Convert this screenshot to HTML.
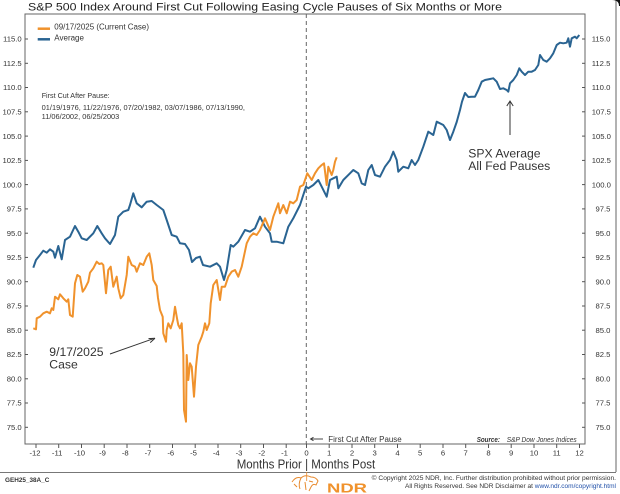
<!DOCTYPE html>
<html><head><meta charset="utf-8"><style>
html,body{margin:0;padding:0;background:#fff;}
svg{display:block;font-family:"Liberation Sans",Arial,sans-serif;}
</style></head><body>
<svg width="620" height="494" viewBox="0 0 620 494" xmlns="http://www.w3.org/2000/svg">
<rect width="620" height="494" fill="#fff"/>
<!-- outer border -->
<line x1="616" y1="0" x2="616" y2="472" stroke="#666" stroke-width="1"/>
<line x1="0" y1="472.5" x2="616" y2="472.5" stroke="#777" stroke-width="1"/>
<path d="M612,0 Q619,0 619,6 L620,6 L620,0 Z" fill="#111"/>
<!-- title -->
<text x="28" y="10.5" font-size="11" fill="#222" textLength="474" lengthAdjust="spacingAndGlyphs">S&amp;P 500 Index Around First Cut Following Easing Cycle Pauses of Six Months or More</text>
<!-- frame -->
<rect x="25" y="14" width="560" height="430" fill="none" stroke="#666" stroke-width="1"/>
<!-- y ticks & labels -->
<g font-size="7.7" fill="#333" stroke="none">
<g stroke="#555" stroke-width="1">
<line x1="25" y1="39" x2="28" y2="39"/><line x1="25" y1="63.3" x2="28" y2="63.3"/><line x1="25" y1="87.5" x2="28" y2="87.5"/><line x1="25" y1="111.8" x2="28" y2="111.8"/><line x1="25" y1="136.1" x2="28" y2="136.1"/><line x1="25" y1="160.4" x2="28" y2="160.4"/><line x1="25" y1="184.6" x2="28" y2="184.6"/><line x1="25" y1="208.9" x2="28" y2="208.9"/><line x1="25" y1="233.2" x2="28" y2="233.2"/><line x1="25" y1="257.4" x2="28" y2="257.4"/><line x1="25" y1="281.7" x2="28" y2="281.7"/><line x1="25" y1="306" x2="28" y2="306"/><line x1="25" y1="330.2" x2="28" y2="330.2"/><line x1="25" y1="354.5" x2="28" y2="354.5"/><line x1="25" y1="378.8" x2="28" y2="378.8"/><line x1="25" y1="403" x2="28" y2="403"/><line x1="25" y1="427.3" x2="28" y2="427.3"/>
<line x1="582" y1="39" x2="585" y2="39"/><line x1="582" y1="63.3" x2="585" y2="63.3"/><line x1="582" y1="87.5" x2="585" y2="87.5"/><line x1="582" y1="111.8" x2="585" y2="111.8"/><line x1="582" y1="136.1" x2="585" y2="136.1"/><line x1="582" y1="160.4" x2="585" y2="160.4"/><line x1="582" y1="184.6" x2="585" y2="184.6"/><line x1="582" y1="208.9" x2="585" y2="208.9"/><line x1="582" y1="233.2" x2="585" y2="233.2"/><line x1="582" y1="257.4" x2="585" y2="257.4"/><line x1="582" y1="281.7" x2="585" y2="281.7"/><line x1="582" y1="306" x2="585" y2="306"/><line x1="582" y1="330.2" x2="585" y2="330.2"/><line x1="582" y1="354.5" x2="585" y2="354.5"/><line x1="582" y1="378.8" x2="585" y2="378.8"/><line x1="582" y1="403" x2="585" y2="403"/><line x1="582" y1="427.3" x2="585" y2="427.3"/>
</g>
<g text-anchor="end">
<text x="21.7" y="41.7">115.0</text><text x="21.7" y="66">112.5</text><text x="21.7" y="90.2">110.0</text><text x="21.7" y="114.5">107.5</text><text x="21.7" y="138.8">105.0</text><text x="21.7" y="163.1">102.5</text><text x="21.7" y="187.3">100.0</text><text x="21.7" y="211.6">97.5</text><text x="21.7" y="235.9">95.0</text><text x="21.7" y="260.1">92.5</text><text x="21.7" y="284.4">90.0</text><text x="21.7" y="308.7">87.5</text><text x="21.7" y="332.9">85.0</text><text x="21.7" y="357.2">82.5</text><text x="21.7" y="381.5">80.0</text><text x="21.7" y="405.7">77.5</text><text x="21.7" y="430">75.0</text>
</g>
<g text-anchor="start">
<text x="591.7" y="41.7">115.0</text><text x="591.7" y="66">112.5</text><text x="591.7" y="90.2">110.0</text><text x="591.7" y="114.5">107.5</text><text x="591.7" y="138.8">105.0</text><text x="591.7" y="163.1">102.5</text><text x="591.7" y="187.3">100.0</text><text x="595.5" y="211.6">97.5</text><text x="595.5" y="235.9">95.0</text><text x="595.5" y="260.1">92.5</text><text x="595.5" y="284.4">90.0</text><text x="595.5" y="308.7">87.5</text><text x="595.5" y="332.9">85.0</text><text x="595.5" y="357.2">82.5</text><text x="595.5" y="381.5">80.0</text><text x="595.5" y="405.7">77.5</text><text x="595.5" y="430">75.0</text>
</g>
</g>
<!-- x ticks -->
<g stroke="#555" stroke-width="1">
<line x1="36" y1="444" x2="36" y2="448"/><line x1="58.7" y1="444" x2="58.7" y2="448"/><line x1="81.5" y1="444" x2="81.5" y2="448"/><line x1="104.2" y1="444" x2="104.2" y2="448"/><line x1="127" y1="444" x2="127" y2="448"/><line x1="149.7" y1="444" x2="149.7" y2="448"/><line x1="172.5" y1="444" x2="172.5" y2="448"/><line x1="195.2" y1="444" x2="195.2" y2="448"/><line x1="218" y1="444" x2="218" y2="448"/><line x1="240.7" y1="444" x2="240.7" y2="448"/><line x1="263.5" y1="444" x2="263.5" y2="448"/><line x1="286.2" y1="444" x2="286.2" y2="448"/><line x1="306.5" y1="444" x2="306.5" y2="448"/><line x1="329.2" y1="444" x2="329.2" y2="448"/><line x1="352" y1="444" x2="352" y2="448"/><line x1="374.7" y1="444" x2="374.7" y2="448"/><line x1="397.5" y1="444" x2="397.5" y2="448"/><line x1="420.2" y1="444" x2="420.2" y2="448"/><line x1="443" y1="444" x2="443" y2="448"/><line x1="465.7" y1="444" x2="465.7" y2="448"/><line x1="488.5" y1="444" x2="488.5" y2="448"/><line x1="511.2" y1="444" x2="511.2" y2="448"/><line x1="534" y1="444" x2="534" y2="448"/><line x1="556.7" y1="444" x2="556.7" y2="448"/><line x1="579.5" y1="444" x2="579.5" y2="448"/>
</g>
<g font-size="7.7" fill="#333" text-anchor="middle">
<text x="35" y="455.5">-12</text><text x="57.2" y="455.5">-11</text><text x="79.5" y="455.5">-10</text><text x="102.5" y="455.5">-9</text><text x="125.3" y="455.5">-8</text><text x="148" y="455.5">-7</text><text x="170.8" y="455.5">-6</text><text x="193.5" y="455.5">-5</text><text x="216.3" y="455.5">-4</text><text x="239" y="455.5">-3</text><text x="261.8" y="455.5">-2</text><text x="284.5" y="455.5">-1</text><text x="306.5" y="455.5">0</text><text x="329.2" y="455.5">1</text><text x="352" y="455.5">2</text><text x="374.7" y="455.5">3</text><text x="397.5" y="455.5">4</text><text x="420.2" y="455.5">5</text><text x="443" y="455.5">6</text><text x="465.7" y="455.5">7</text><text x="488.5" y="455.5">8</text><text x="511.2" y="455.5">9</text><text x="534" y="455.5">10</text><text x="556.7" y="455.5">11</text><text x="579.5" y="455.5">12</text>
</g>
<text x="236.7" y="468.5" font-size="12.5" fill="#333" textLength="138.5" lengthAdjust="spacingAndGlyphs">Months Prior | Months Post</text>
<!-- dashed vertical -->
<line x1="306.3" y1="14" x2="306.3" y2="444" stroke="#666" stroke-width="1" stroke-dasharray="4,3"/>
<!-- legend -->
<line x1="37.7" y1="28.7" x2="50" y2="28.7" stroke="#f0922c" stroke-width="2.5"/>
<text x="54.3" y="29.3" font-size="8" fill="#333" textLength="94.7" lengthAdjust="spacingAndGlyphs">09/17/2025 (Current Case)</text>
<line x1="37.7" y1="39.3" x2="50" y2="39.3" stroke="#2a6492" stroke-width="2.5"/>
<text x="54.3" y="40.3" font-size="8" fill="#333">Average</text>
<!-- first cut text -->
<g font-size="7.3" fill="#333">
<text x="41.7" y="98.2" textLength="68" lengthAdjust="spacingAndGlyphs">First Cut After Pause:</text>
<text x="41.7" y="109.8" textLength="203.3" lengthAdjust="spacingAndGlyphs">01/19/1976, 11/22/1976, 07/20/1982, 03/07/1986, 07/13/1990,</text>
<text x="41.7" y="119.2" textLength="77.6" lengthAdjust="spacingAndGlyphs">11/06/2002, 06/25/2003</text>
</g>
<!-- series -->
<polyline fill="none" stroke="#2a6492" stroke-width="2" stroke-linejoin="round" points="33.3,267.7 36,260 40,255 43.3,250.7 46.7,252.7 50,249.3 53.3,251.7 55,257.7 58.3,246 61.7,259.3 65,240 70,236.7 75,226 78.3,231.7 81.7,238.3 86.7,240 93.3,233.3 97.3,226 101.7,233.3 105,238.3 110,244 115,235 118.3,216.7 123.3,211.7 128.3,210 130,205 133.3,193.3 136.7,203.3 141.7,207.3 146.7,201.7 151.7,201 156.7,205 163.3,210 166.7,220 171.7,235 176.7,236.7 180,243.3 185,244 189,250 192,262 196,258 200,256.7 203,265 210,266.7 216.7,263.3 220,266.7 224,280 226.7,270 230.7,245 233.3,246.7 238.3,241.7 245,230 250,231.7 255,228.3 260,216.7 265,226.7 270,233.3 271.7,241.7 276.7,241.7 283.3,243.3 288.3,226.7 293.3,218.3 300,205 306,186.7 308.3,188.3 313.3,185 318.3,180 321.7,186.7 326.7,196.7 330,180 333.3,178.3 336.7,176.7 338.3,188.3 343.3,180 350,173.3 353.3,170 358.3,173.3 361.7,183.3 365,185 368.3,170 371.7,165 375,175 380,176.7 385,166.7 390,160 393.3,151.7 396.7,160 398.3,171.7 403.3,166.7 408.3,168.3 411.7,160 415,165 418.3,160 423.3,146.7 428.3,131.7 433.3,135 436.7,121.7 443.3,125 446.7,130 450,140 453.3,131.7 456.7,122 460,110 462,101.7 465,93 468.3,97 471.7,96.7 475,96.7 478.3,90 481.7,81.7 485,80 490,79 493.3,78.3 496.7,81.7 500,89 503.3,88.3 506.7,90 508.3,91.7 510,83.3 513.3,80 516.7,75 519.3,68.3 521.7,71.7 525,75 528.3,71.7 531.7,71.7 535,70 538.3,65 540,55 543.3,60 546.7,61.7 550,58.3 553.3,53.3 556.7,45 560,42.7 563.3,43.3 566.7,42.7 568.3,38.3 570,46.7 571.7,38.3 575,36.7 576.7,38.3 579.3,35"/>
<polyline fill="none" stroke="#f0922c" stroke-width="2" stroke-linejoin="round" points="33.3,328.3 36,329.3 36.7,318.3 40,316.7 43.3,313.3 46.7,311.7 50,313.3 51.7,308.3 53.3,310 55,296.7 58.3,299.3 60,294.3 63.3,298.3 66.7,301.7 68.3,299.3 70,315 72.7,316.7 75,283.3 77.3,275 80,276.7 82.7,291.7 85,288.3 88.3,281.7 90,272.7 93.3,268.3 96.7,261.7 99.3,264 101.7,263.3 103.3,265 106,293.3 108.3,270 110.7,266.7 113.3,286.7 116.7,276.7 118.3,288.3 120.7,298.3 123.3,295 126.7,275 128.3,256.7 131.7,265 135,266.7 136.7,271.7 140,263.3 143.3,265 146.7,256.7 149.3,253.3 151.7,265 153.3,280 156.7,286 158,298 160,310 162.7,316.7 163.3,333.3 166,341.7 166.7,330 168.3,323.3 170.7,328.3 173.3,320 175,306.7 177.3,320 178.3,325 180,328.3 181.7,323.3 183.3,353.3 184,410 186,421.7 186.7,355 188.3,380 190,363.3 191.7,366.7 194,396.7 196,366.7 198.3,345 201.7,336.7 203.3,331.7 205,323.3 206.7,330 209.3,323.3 210.7,303.3 213.3,285 216.7,280 220,300 221.7,286.7 225,286.7 228.3,276.7 231.7,271.7 235,270 238.3,276.7 241.7,266.7 246.7,243.3 250,236.7 253.3,233.3 256.7,235 260,230 265,218.3 270,230 273.3,216.7 278.3,203.3 280,213.3 283.3,205 286.7,213.3 290,201.7 293.3,203.3 296.7,200 300,186.7 303.3,185 307.3,173.3 311.7,180 315,173.3 318.3,168.3 321.7,165 324,163.3 326.7,185 328.3,166.7 331.7,175 333.3,170 335,161.7 336.7,157.3"/>
<!-- annotations -->
<g font-size="12.2" fill="#333">
<text x="49.3" y="356">9/17/2025</text>
<text x="49.3" y="368.6">Case</text>
<text x="468.3" y="157.6">SPX Average</text>
<text x="468.3" y="170">All Fed Pauses</text>
</g>
<line x1="110" y1="354" x2="153" y2="338.8" stroke="#333" stroke-width="1"/>
<path d="M155,338.2 L148.5,338.6 M155,338.2 L150.2,342.6" stroke="#333" stroke-width="1" fill="none"/>
<line x1="510" y1="135" x2="510" y2="101.5" stroke="#333" stroke-width="1"/>
<path d="M506.8,106 L510,101 L513.2,106" stroke="#333" stroke-width="1" fill="none"/>
<!-- first cut label -->
<line x1="311" y1="439" x2="323" y2="439" stroke="#333" stroke-width="0.9"/>
<path d="M313.5,437.2 L310.5,439 L313.5,440.8" stroke="#333" stroke-width="0.9" fill="none"/>
<text x="328.3" y="441.8" font-size="8" fill="#333" textLength="73.4" lengthAdjust="spacingAndGlyphs">First Cut After Pause</text>
<text x="476.7" y="441.8" font-size="7.5" fill="#333" font-weight="bold" font-style="italic" textLength="23.3" lengthAdjust="spacingAndGlyphs">Source:</text>
<text x="506.7" y="441.8" font-size="7.5" fill="#333" font-style="italic" textLength="70" lengthAdjust="spacingAndGlyphs">S&amp;P Dow Jones Indices</text>
<!-- footer -->
<text x="5" y="482.2" font-size="6.5" font-weight="bold" fill="#333" textLength="44.3" lengthAdjust="spacingAndGlyphs">GEH25_38A_C</text>
<text x="371.7" y="480" font-size="6.6" fill="#333" textLength="244.3" lengthAdjust="spacingAndGlyphs">© Copyright 2025 NDR, Inc. Further distribution prohibited without prior permission.</text>
<text x="405" y="488" font-size="6.6" fill="#333" textLength="211" lengthAdjust="spacingAndGlyphs">All Rights Reserved. See NDR Disclaimer at <tspan fill="#1f4fa8">www.ndr.com/copyright.html</tspan></text>
<line x1="306.7" y1="472" x2="306.7" y2="481" stroke="#e88a2e" stroke-width="0.8"/>
<g stroke="#e88a2e" stroke-width="1" fill="none">
<path d="M292,482 Q296,476 301,478 Q305,474 311,477 Q316,477 318,481 L316,485 Q313,483 311,487 L309,491 M301,478 Q298,484 300,489 M294,484 L297,487 M305,482 L306,490 M309,481 L313,482"/>
</g>
<text x="327" y="492.5" font-size="13" font-weight="bold" fill="#f0922c" textLength="40" lengthAdjust="spacingAndGlyphs">NDR</text>
</svg>
</body></html>
